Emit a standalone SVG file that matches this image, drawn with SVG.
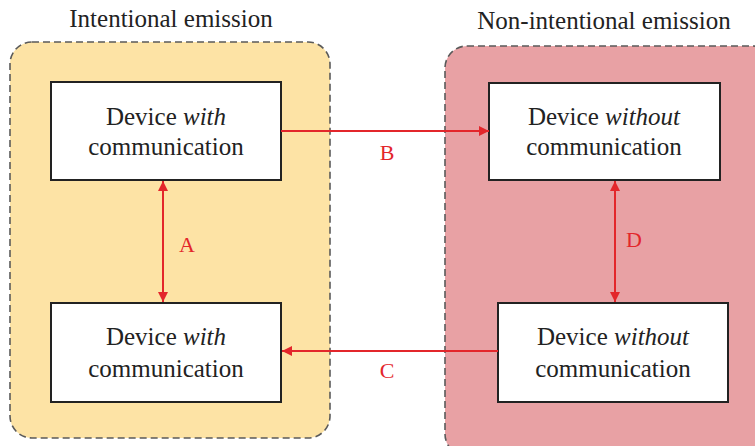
<svg xmlns="http://www.w3.org/2000/svg" width="755" height="446" viewBox="0 0 755 446">
<style>
.zone{stroke:#5a5a5a;stroke-width:1.6;stroke-dasharray:7,4}
.box{fill:#fff;stroke:#222;stroke-width:2}
.t{font-family:'Liberation Serif','DejaVu Serif',serif;font-size:25px;fill:#222;text-anchor:middle}
.lbl{font-family:'Liberation Serif','DejaVu Serif',serif;font-size:22px;fill:#e3262b;text-anchor:middle}
.c{stroke:#e3262b;stroke-width:2;fill:none}
</style>
<defs>
<marker id="ah" viewBox="0 0 10 10" refX="10" refY="5" markerWidth="10" markerHeight="10" markerUnits="userSpaceOnUse" orient="auto-start-reverse">
<path d="M0,0 L10,5 L0,10 z" fill="#e3262b"/>
</marker>
</defs>
<rect width="755" height="446" fill="#fff"/>
<g id="zone-intentional">
<rect class="zone" x="10" y="42" width="320" height="396" rx="22" fill="#fde3a5"/>
<text class="t" x="171" y="27">Intentional emission</text>
</g>
<g id="zone-nonintentional">
<rect class="zone" x="445" y="46" width="330" height="410" rx="22" fill="#e8a1a4"/>
<text class="t" x="604" y="29">Non-intentional emission</text>
</g>
<g id="node-tl">
<rect class="box" x="51" y="82" width="230" height="98"/>
<text class="t" x="166" y="125">Device <tspan font-style="italic">with</tspan></text>
<text class="t" x="166" y="155">communication</text>
</g>
<g id="node-bl">
<rect class="box" x="51" y="303" width="230" height="99"/>
<text class="t" x="166" y="345">Device <tspan font-style="italic">with</tspan></text>
<text class="t" x="166" y="377">communication</text>
</g>
<g id="node-tr">
<rect class="box" x="489" y="83" width="231" height="97"/>
<text class="t" x="604" y="125">Device <tspan font-style="italic">without</tspan></text>
<text class="t" x="604" y="155">communication</text>
</g>
<g id="node-br">
<rect class="box" x="498" y="303" width="230" height="99"/>
<text class="t" x="613" y="345">Device <tspan font-style="italic">without</tspan></text>
<text class="t" x="613" y="377">communication</text>
</g>
<g id="connectors">
<line class="c" x1="281" y1="131" x2="489" y2="131" marker-end="url(#ah)"/>
<line class="c" x1="498" y1="351" x2="282" y2="351" marker-end="url(#ah)"/>
<line class="c" x1="163" y1="181" x2="163" y2="302" marker-start="url(#ah)" marker-end="url(#ah)"/>
<line class="c" x1="615" y1="181" x2="615" y2="302" marker-start="url(#ah)" marker-end="url(#ah)"/>
<text class="lbl" x="387" y="160">B</text>
<text class="lbl" x="387" y="378">C</text>
<text class="lbl" x="187" y="252">A</text>
<text class="lbl" x="634" y="247">D</text>
</g>
</svg>
